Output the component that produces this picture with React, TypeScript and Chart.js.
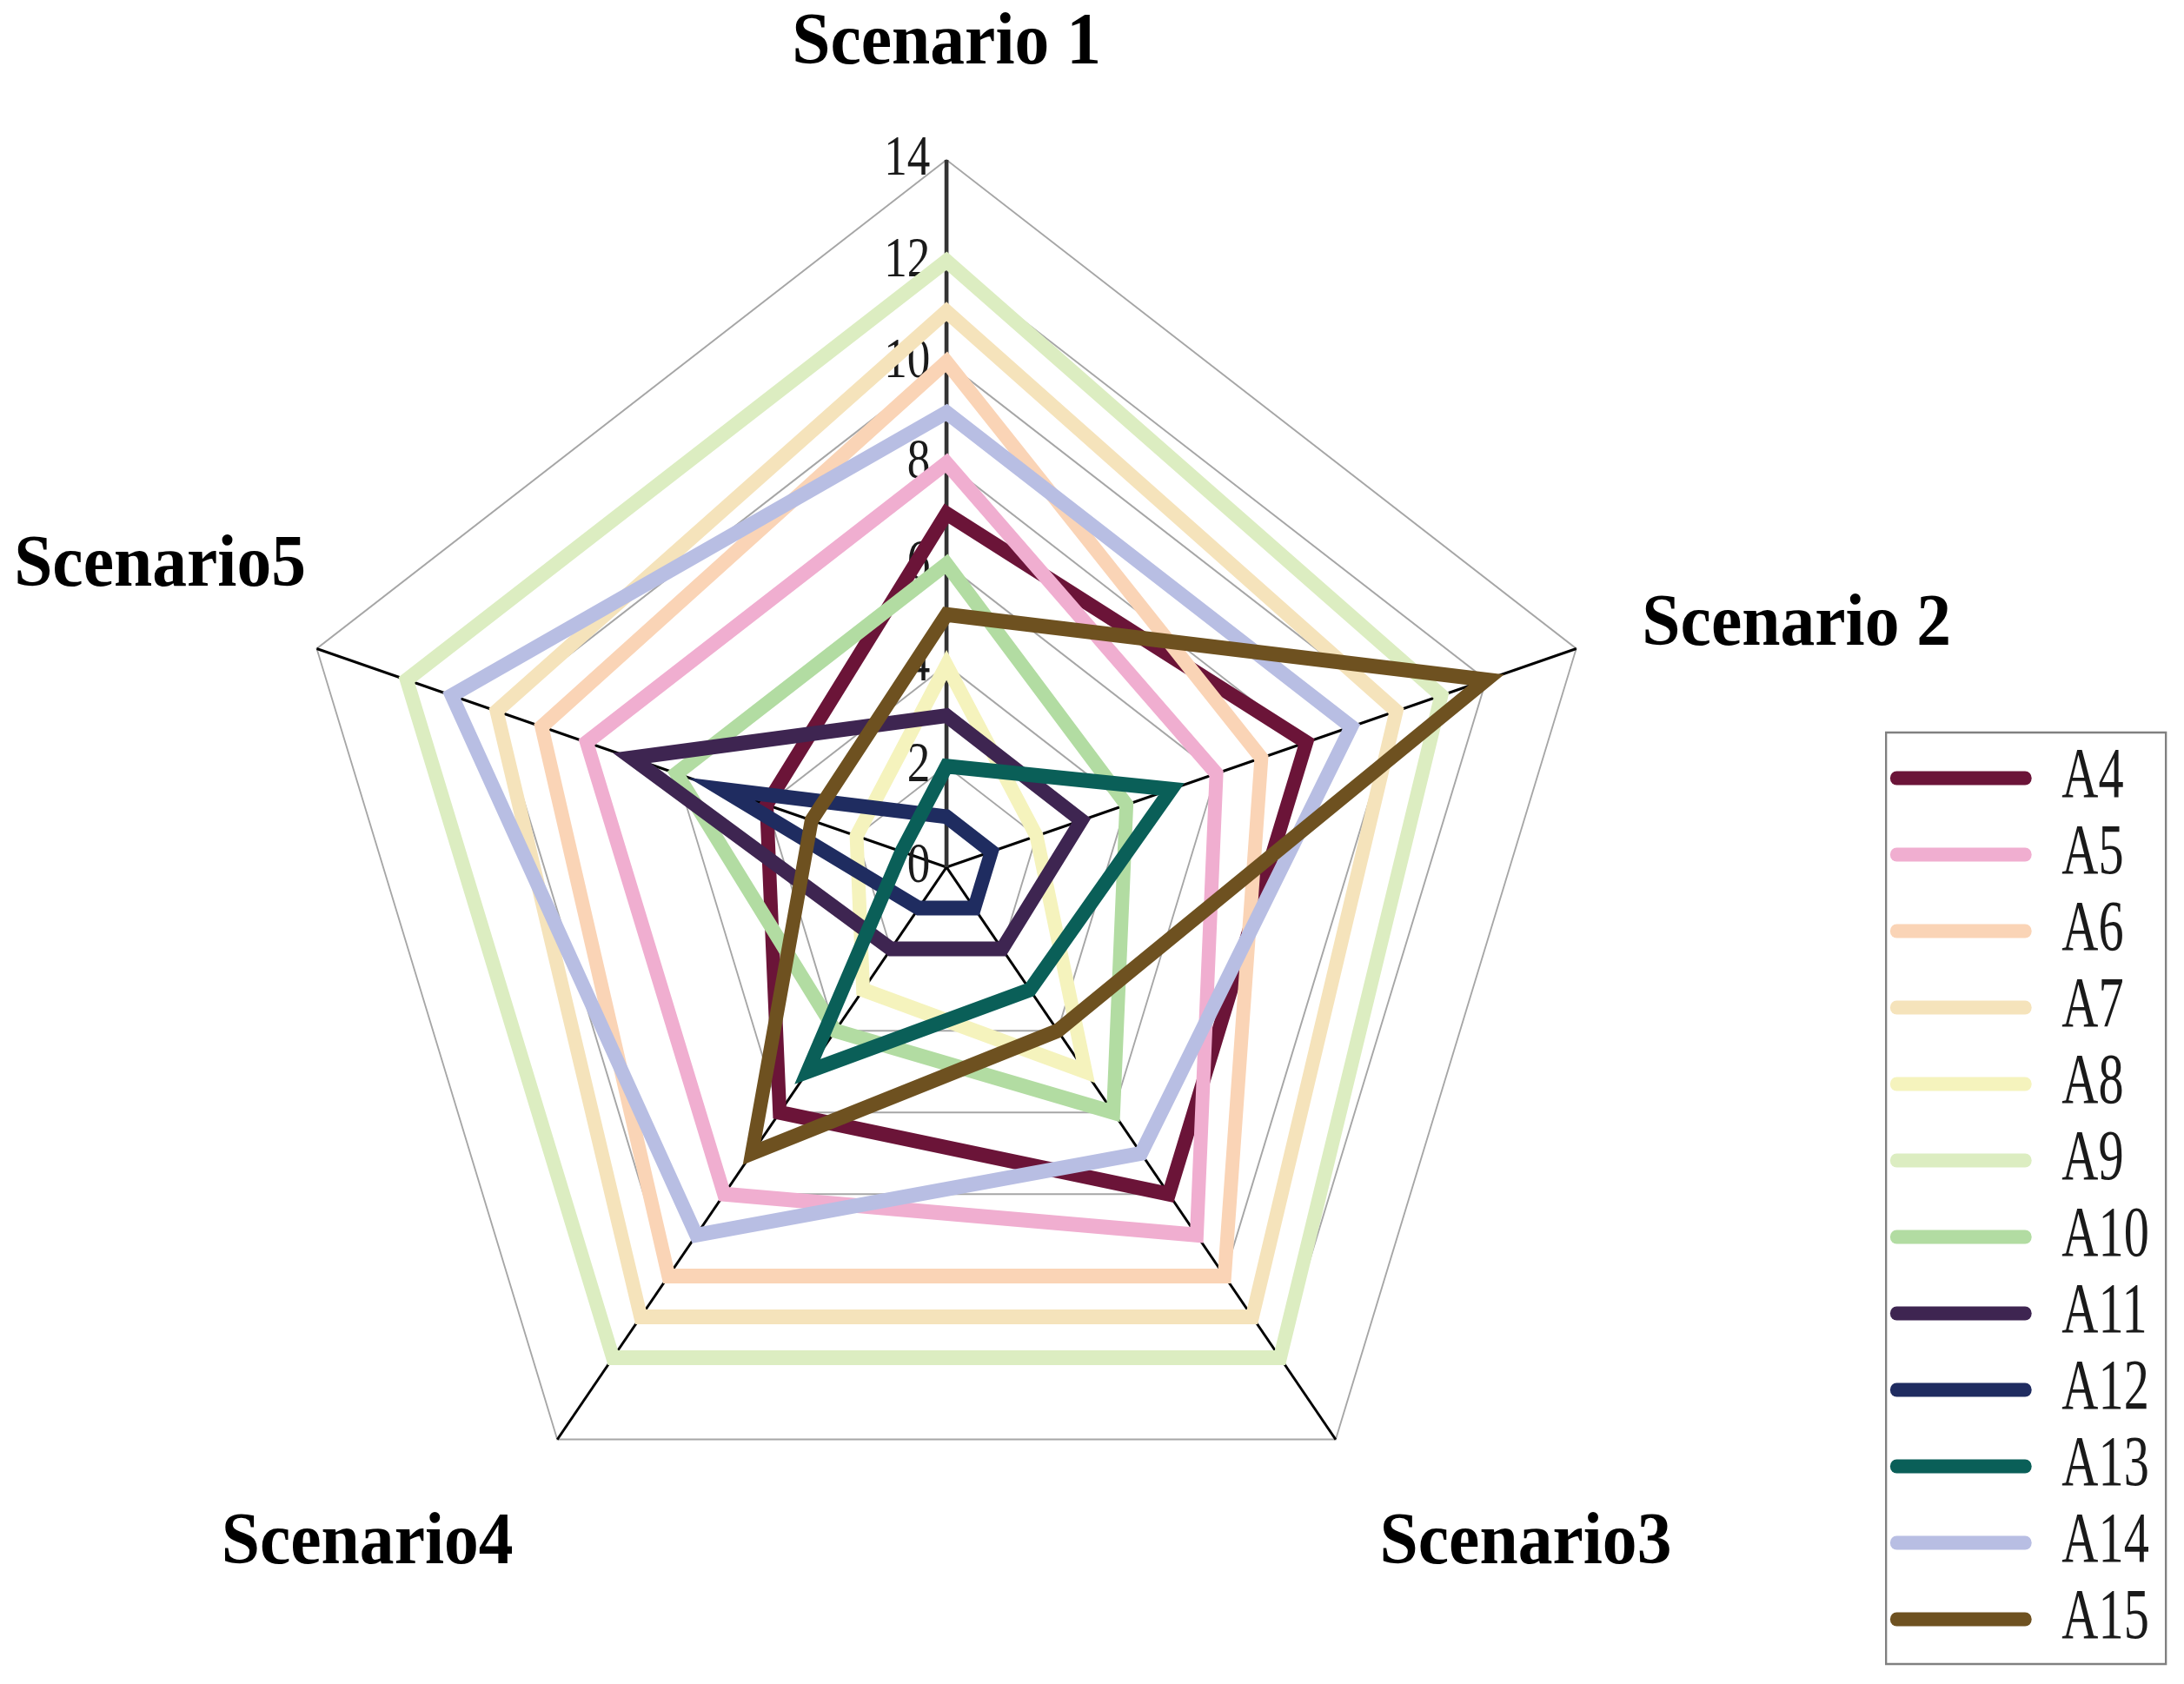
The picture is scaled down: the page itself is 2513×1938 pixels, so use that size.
import React, { useEffect, useRef } from 'react';
import { Chart, registerables } from 'chart.js';

Chart.register(...registerables);

// ---------- data ----------
const scenarioLabels = ['Scenario 1', 'Scenario 2', 'Scenario3', 'Scenario4', 'Scenario5'];
const seriesNames = ['A4', 'A5', 'A6', 'A7', 'A8', 'A9', 'A10', 'A11', 'A12', 'A13', 'A14', 'A15'];

const A4 = [7, 8, 8, 6, 4];
const A5 = [8, 6, 9, 8, 8];
const A6 = [10, 7, 10, 10, 9];
const A7 = [11, 10, 11, 11, 10];
const A8 = [4, 2, 5, 3, 2];
const A9 = [12, 11, 12, 12, 12];
const A10 = [6, 4, 6, 4, 6];
const A11 = [3, 3, 2, 2, 7];
const A12 = [1, 1, 1, 1, 5];
const A13 = [2, 5, 3, 5, 1];
const A14 = [9, 9, 7, 9, 11];
const A15 = [5, 12, 4, 7, 3];

const seriesValues = [A4, A5, A6, A7, A8, A9, A10, A11, A12, A13, A14, A15];

const seriesColors = [
  '#6b1438', '#f0aed0', '#fad4b6', '#f5e3bb', '#f5f3bd', '#dcedc1',
  '#b2dca2', '#3e2551', '#1f2c60', '#0a5f58', '#b8bee3', '#6e5120',
];

const tickLabels = ['0', '2', '4', '6', '8', '10', '12', '14'];

// ---------- layout (drawing units; the whole drawing is condensed horizontally) ----------
const SX = 0.936;
const CANVAS_W = 2490;
const CANVAS_H = 1922;
const CX = 1155;
const CY = 990;
const R = 814;
const LABEL_PAD = [132, 85, 92, 92, 14];
const LABEL_LH = [1, 1, 92, 92, 180];

const LEG = {
  left: 2310, top: 835, right: 2654, bottom: 1907,
  lineX0: 2323, lineX1: 2481, textX: 2526, row0: 887.5, rowGap: 88,
};

const drawPlugin = {
  id: 'condenseAndExtras',
  beforeDraw(chart: any) {
    const ctx = chart.ctx;
    ctx.save();
    ctx.scale(SX, 1);
  },
  beforeDatasetsDraw(chart: any) {
    const scale = chart.scales.r;
    const ctx = chart.ctx;
    ctx.save();
    ctx.font = '66px "Liberation Serif"';
    ctx.fillStyle = '#1a1a1a';
    ctx.textAlign = 'right';
    ctx.textBaseline = 'middle';
    scale.ticks.forEach((t: any) => {
      const p = scale.getPointPositionForValue(0, t.value);
      ctx.save();
      ctx.translate(p.x - 20, p.y);
      ctx.scale(0.86, 1);
      ctx.fillText(String(t.label), 0, 0);
      ctx.restore();
    });
    ctx.restore();
  },
  afterDraw(chart: any) {
    const ctx = chart.ctx;
    ctx.save();
    ctx.strokeStyle = '#808080';
    ctx.lineWidth = 2.5;
    ctx.strokeRect(LEG.left, LEG.top, LEG.right - LEG.left, LEG.bottom - LEG.top);
    chart.data.datasets.forEach((ds: any, i: number) => {
      const y = LEG.row0 + i * LEG.rowGap;
      ctx.strokeStyle = ds.borderColor;
      ctx.lineWidth = 16;
      ctx.lineCap = 'round';
      ctx.beginPath();
      ctx.moveTo(LEG.lineX0, y);
      ctx.lineTo(LEG.lineX1, y);
      ctx.stroke();
      ctx.save();
      ctx.translate(LEG.textX, y);
      ctx.scale(0.76, 1);
      ctx.font = '82px "Liberation Serif"';
      ctx.fillStyle = '#1a1a1a';
      ctx.textAlign = 'left';
      ctx.textBaseline = 'middle';
      ctx.fillText(ds.label, 0, 0);
      ctx.restore();
    });
    ctx.restore();
    ctx.restore(); // end of condensed drawing
  },
};

export default function App() {
  const ref = useRef<HTMLCanvasElement>(null);

  useEffect(() => {
    if (!ref.current) return;
    const chart = new Chart(ref.current, {
      type: 'radar',
      data: {
        labels: scenarioLabels,
        datasets: seriesNames.map((name, i) => ({
          label: name,
          data: seriesValues[i],
          borderColor: seriesColors[i],
          backgroundColor: 'transparent',
          borderWidth: 17,
          pointRadius: 0,
          pointHoverRadius: 0,
          fill: false,
          borderJoinStyle: 'miter',
          order: -i,
        })),
      },
      options: {
        responsive: false,
        animation: false,
        events: [],
        layout: { padding: 0 },
        plugins: {
          legend: { display: false },
          tooltip: { enabled: false },
          title: { display: false },
        },
        scales: {
          r: {
            min: 0,
            max: 14,
            ticks: {
              display: false,
              stepSize: 2,
              callback: (v: any, i: number) => tickLabels[i] ?? String(v),
            },
            grid: { circular: false, color: '#a6a6a6', lineWidth: 2 },
            angleLines: {
              display: true,
              color: (c: any) => (c.index === 0 ? '#333333' : '#000000'),
              lineWidth: (c: any) => (c.index === 0 ? 5 : 3),
            },
            pointLabels: {
              display: true,
              color: '#000000',
              padding: (c: any) => LABEL_PAD[c.index],
              font: (c: any) => ({
                family: '"Liberation Serif", "Times New Roman", serif',
                size: 85,
                weight: 'bold',
                lineHeight: LABEL_LH[c.index] + 'px',
              }),
            },
            afterSetDimensions: (s: any) => {
              s.xCenter = CX;
              s.yCenter = CY;
              s.drawingArea = R;
            },
          } as any,
        },
      } as any,
      plugins: [drawPlugin],
    });
    return () => chart.destroy();
  }, []);

  return (
    <canvas
      ref={ref}
      width={CANVAS_W}
      height={CANVAS_H}
      style={{ display: 'block' }}
    />
  );
}
